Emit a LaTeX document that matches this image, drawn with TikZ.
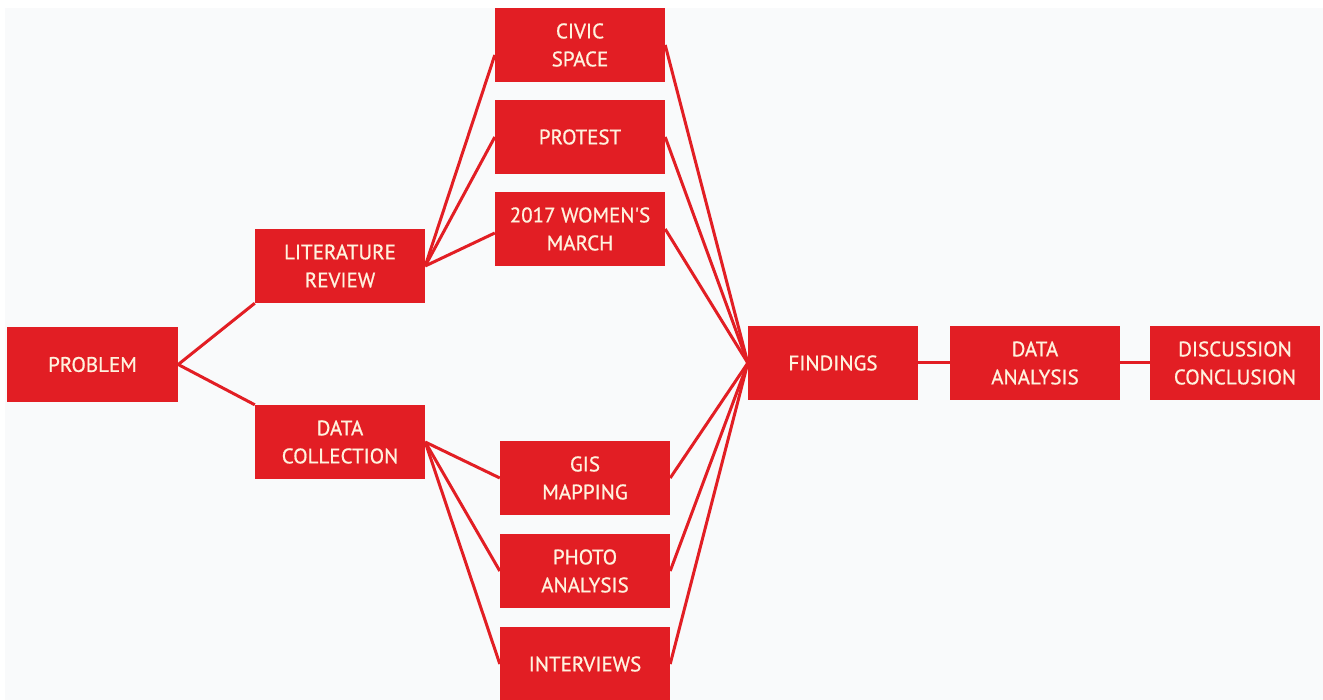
\documentclass[tikz,border=0pt]{standalone}
\usepackage{fontspec}
\setmainfont{PT Sans}
\newfontfamily\boxfont{PT Sans}[FakeBold=0.8]
\definecolor{boxred}{RGB}{226,30,36}
\definecolor{txtcream}{RGB}{255,242,222}
\definecolor{bggray}{RGB}{249,250,251}
\tikzset{
  stepbox/.style={rectangle, fill=boxred, draw=none, minimum width=170pt, minimum height=74pt,
    inner sep=0pt, align=center, text=txtcream,
    font=\boxfont\fontsize{21}{28}\selectfont},
  link/.style={draw=boxred, line width=3pt}
}
\begin{document}
\begin{tikzpicture}[x=1pt,y=-1pt]
\useasboundingbox (0,0) rectangle (1323,700);
\fill[white] (0,0) rectangle (1323,700);
\fill[bggray] (5,8) rectangle (1323,700);
\begin{scope}
\clip (5,8) rectangle (1323,700);
\node[stepbox] (civic) at (580,45) {CIVIC\\SPACE};
\node[stepbox] (protest) at (580,137) {PROTEST};
\node[stepbox] (women) at (580,229) {2017 WOMEN'S\\MARCH};
\node[stepbox] (lit) at (340,266) {LITERATURE\\REVIEW};
\node[stepbox, minimum width=171pt, minimum height=75pt] (problem) at (92.5,364.5) {PROBLEM};
\node[stepbox] (dc) at (340,442) {DATA\\COLLECTION};
\node[stepbox] (gis) at (585,478) {GIS\\MAPPING};
\node[stepbox] (photo) at (585,571) {PHOTO\\ANALYSIS};
\node[stepbox] (interviews) at (585,664) {INTERVIEWS};
\node[stepbox] (findings) at (833,363) {FINDINGS};
\node[stepbox] (da) at (1035,363) {DATA\\ANALYSIS};
\node[stepbox] (disc) at (1235,363) {DISCUSSION\\CONCLUSION};
\draw[link] (problem.east) -- (lit.south west);
\draw[link] (problem.east) -- (dc.north west);
\draw[link] (lit.east) -- ([yshift=-10pt]civic.west);
\draw[link] (lit.east) -- (protest.west);
\draw[link] (lit.east) -- ([yshift=-4pt]women.west);
\draw[link] (dc.east) -- (gis.west);
\draw[link] (dc.east) -- (photo.west);
\draw[link] (dc.east) -- (interviews.west);
\foreach \n in {civic,protest,women,gis,photo,interviews}
  \draw[link] (\n.east) -- (findings.west);
\draw[link] (findings.east) -- (da.west);
\draw[link] (da.east) -- (disc.west);
\end{scope}
\end{tikzpicture}
\end{document}
